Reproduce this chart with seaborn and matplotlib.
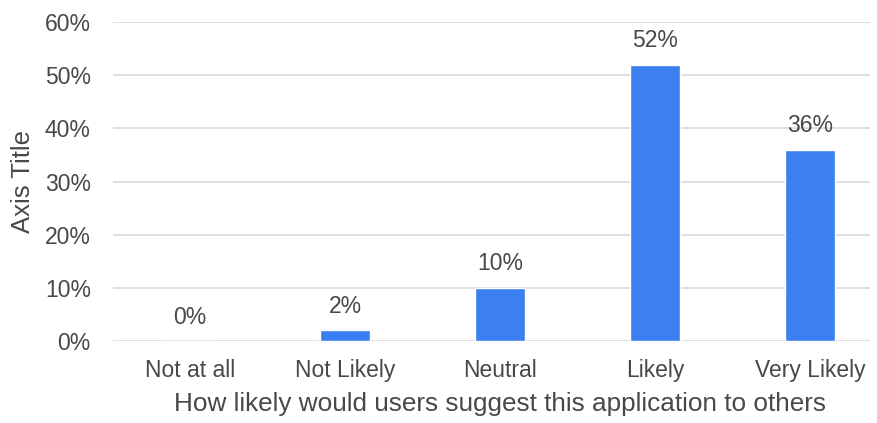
import matplotlib
matplotlib.use("Agg")
import matplotlib.pyplot as plt
import seaborn as sns
import pandas as pd
from matplotlib.ticker import PercentFormatter

categories = ["Not at all", "Not Likely", "Neutral", "Likely", "Very Likely"]
shares = [0, 2, 10, 52, 36]
y_ticks = [0, 10, 20, 30, 40, 50, 60]

df = pd.DataFrame({"category": categories, "share": shares})

sns.set_theme(style="white")
plt.rcParams["font.family"] = ["Liberation Sans", "DejaVu Sans"]

text_color = "#484848"
fig = plt.figure(figsize=(8.77, 4.23), dpi=100)
ax = fig.add_axes([113 / 877, 1 - 341 / 423, (870 - 113) / 877, (341 - 22) / 423])

sns.barplot(data=df, x="category", y="share", color="#3c7ff0", saturation=1,
            width=0.32, ax=ax, zorder=3)

ax.set_ylim(0, 60)
ax.set_xlim(-0.497, 4.387)
ax.set_yticks(y_ticks)
ax.yaxis.set_major_formatter(PercentFormatter(decimals=0))
ax.grid(axis="y", color="#d9d9d9", linewidth=1.2, zorder=0)
for s in ax.spines.values():
    s.set_visible(False)
ax.tick_params(axis="both", length=0, labelsize=16.5, colors=text_color)
ax.tick_params(axis="y", pad=16)
ax.tick_params(axis="x", pad=13)

for i, v in enumerate(shares):
    ax.annotate(f"{v}%", (i, v), xytext=(0, 9), textcoords="offset points",
                ha="center", va="bottom", fontsize=16.5, color=text_color)

ax.set_xlabel("How likely would users suggest this application to others",
              fontsize=18.8, color=text_color, labelpad=7)
ax.xaxis.label.set_x(0.511)
ax.set_ylabel("Axis Title", fontsize=18.5, color=text_color, labelpad=7)

fig.savefig("out.png", dpi=100, facecolor="white")
